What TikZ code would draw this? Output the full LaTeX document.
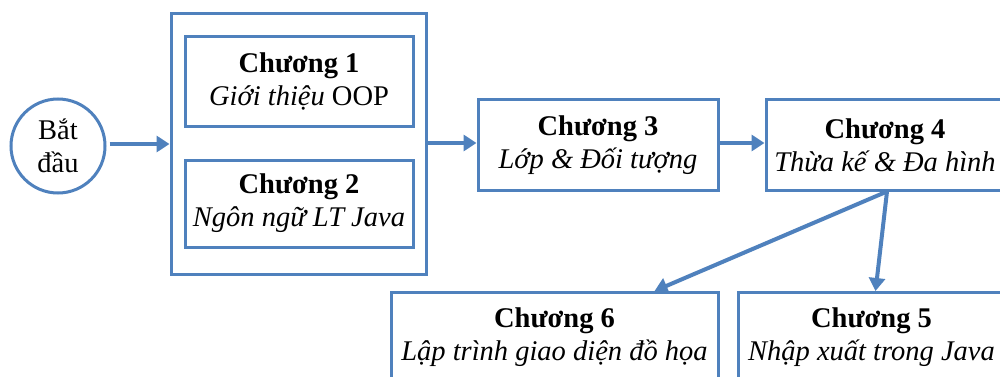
\documentclass[tikz,border=0pt]{standalone}
\usepackage{fontspec}
\setmainfont{Liberation Serif}
\usetikzlibrary{arrows.meta,positioning,calc}
\definecolor{chapblue}{HTML}{4F81BD}
\tikzset{
  chap/.style={draw=chapblue, line width=3pt, fill=white, rectangle, align=center,
    inner sep=0pt, font=\fontsize{28.5}{33}\selectfont},
  flow/.style={draw=chapblue, line width=4pt,
    -{Triangle[length=13pt,width=16pt]}, shorten >=0pt},
}
\begin{document}
\begin{tikzpicture}[x=1pt,y=-1pt]
\clip (0,0) rectangle (1000,377);
\fill[white] (0,0) rectangle (1000,377);

% start circle
\node[draw=chapblue, line width=3pt, circle, minimum size=94pt, inner sep=0pt,
  align=center, font=\fontsize{28.5}{33}\selectfont] (start) at (58,146) {Bắt\\đầu};

% group holding chapters 1 and 2
\node[chap, minimum width=255pt, minimum height=260pt] (grp) at (298.5,144) {};
\node[chap, minimum width=228pt, minimum height=89pt] (c1) at (299,81.5)
  {\textbf{Chương 1}\\\textit{Giới thiệu} OOP};
\node[chap, minimum width=228pt, minimum height=87pt] (c2) at (299,203.5)
  {\textbf{Chương 2}\\\textit{Ngôn ngữ LT Java}};

% main row
\node[chap, minimum width=240pt, minimum height=90pt] (c3) at (598,145)
  {\textbf{Chương 3}\\\textit{Lớp \& Đối tượng}};
\node[chap, minimum width=238pt, minimum height=90pt] (c4) at (885,145)
  {\textbf{Chương 4}\\\textit{Thừa kế \& Đa hình}};

% bottom row
\node[chap, minimum width=327pt, minimum height=90pt, anchor=north] (c6) at (554.5,291)
  {\textbf{Chương 6}\\\textit{Lập trình giao diện đồ họa}};
\node[chap, minimum width=267pt, minimum height=90pt, anchor=north] (c5) at (871.5,291)
  {\textbf{Chương 5}\\\textit{Nhập xuất trong Java}};

% connectors
\draw[flow] ([yshift=2pt]start.east) ++(3,0) coordinate (s0) -- (s0 -| grp.west);
\draw[flow] ([yshift=2pt]grp.east |- c3.west) coordinate (g0) -- (g0 -| c3.west);
\draw[flow] ([yshift=2pt]c3.east) -- ([yshift=2pt]c4.west);
\draw[flow] ([xshift=2pt]c4.south) -- ([xshift=100pt]c6.north);
\draw[flow] ([xshift=2pt]c4.south) -- ([xshift=4pt]c5.north);
\end{tikzpicture}
\end{document}
